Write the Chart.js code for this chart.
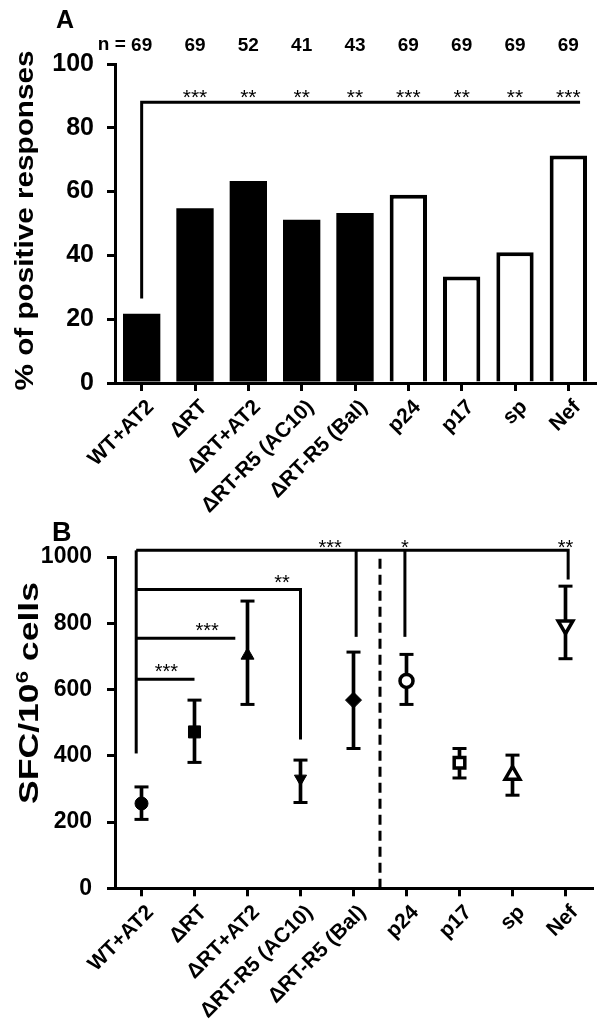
<!DOCTYPE html>
<html><head><meta charset="utf-8">
<script src="https://cdn.jsdelivr.net/npm/chart.js@4"></script>
<style>
html,body{margin:0;padding:0;background:#fff;}
#wrap{position:relative;width:604px;height:1034px;overflow:hidden;}
.box{position:absolute;left:0;width:604px;}
</style></head><body>
<div id="wrap">
<div class="box" style="top:0;height:530px"><canvas id="cA" width="604" height="530"></canvas></div>
<div class="box" style="top:505px;height:529px"><canvas id="cB" width="604" height="529"></canvas></div>
</div>
<script>
// ---------- data ----------
const categories = ['WT+AT2','ΔRT','ΔRT+AT2','ΔRT-R5 (AC10)','ΔRT-R5 (Bal)','p24','p17','sp','Nef'];
const pctPositive = [21.7, 54.8, 63.3, 51.2, 53.3, 59.0, 33.4, 41.0, 71.3];
const nValues = [69, 69, 52, 41, 43, 69, 69, 69, 69];
const isVirusConstruct = [true, true, true, true, true, false, false, false, false];
const starsA = ['', '***', '**', '**', '**', '***', '**', '**', '***'];
const ticksA = [0, 20, 40, 60, 80, 100];

const sfcMean  = [256, 472, 703, 331, 568, 626, 379, 342, 794];
const sfcUpper = [306, 568, 867, 387, 713, 706, 422, 402, 912];
const sfcLower = [208, 380, 555, 259, 422, 555, 333, 281, 693];
const ticksB = [0, 200, 400, 600, 800, 1000];

// significance annotations (category index, value)
const bracketA = {level: 88, from: 0.0, to: 8.22, drop: 26.5};
const starLevelA = 90.5;
const nLabelLevel = 106;
// panel B brackets: [level, fromX, toX, dropTo(or null)]
const bracketsB = [
  [631, -0.1, 1.0, null],
  [755, -0.1, 1.77, null],
  [902, -0.1, 3.0, 449],
  [1020, -0.1, 8.05, 932]
];
const leftStemB = {x: -0.1, from: 1020, to: 407};
const dropsB = [[4.05, 1020, 759], [4.97, 1020, 759]];
const starsB = [['***', 0.47, 664], ['***', 1.24, 788], ['**', 2.65, 933], ['***', 3.56, 1040], ['*', 4.97, 1040], ['**', 8.0, 1040]];
const dividerB = 4.5;

// ---------- helpers ----------
const FONT = "'Liberation Sans', Arial, sans-serif";
Chart.defaults.font.family = FONT;
Chart.defaults.color = '#000';

function centeredText(ctx, txt, x, yc, font, align) {
  ctx.save();
  ctx.font = font;
  ctx.fillStyle = '#000';
  ctx.textAlign = align || 'center';
  ctx.textBaseline = 'alphabetic';
  const m = ctx.measureText(txt);
  ctx.fillText(txt, x, yc + (m.actualBoundingBoxAscent - m.actualBoundingBoxDescent) / 2);
  const w = m.width;
  ctx.restore();
  return w;
}
function yTitle(ctx, parts, baseX, cy, size, targetLen) {
  ctx.save();
  ctx.translate(baseX, cy);
  ctx.rotate(-Math.PI / 2);
  let total = 0;
  parts.forEach(p => { ctx.font = `bold ${size * p.s}px ${FONT}`; p.w = ctx.measureText(p.t).width; total += p.w; });
  const k = targetLen / total;
  ctx.scale(k, 1);
  ctx.fillStyle = '#000';
  ctx.textAlign = 'left';
  ctx.textBaseline = 'alphabetic';
  let x = -total / 2;
  parts.forEach(p => { ctx.font = `bold ${size * p.s}px ${FONT}`; ctx.fillText(p.t, x, -p.r * size); x += p.w; });
  ctx.restore();
}
function path(ctx, pts, dash) {
  ctx.save();
  ctx.strokeStyle = '#000';
  ctx.lineWidth = 3;
  ctx.lineCap = 'butt';
  ctx.lineJoin = 'miter';
  if (dash) ctx.setLineDash(dash);
  ctx.beginPath();
  pts.forEach((p, i) => i ? ctx.lineTo(p[0], p[1]) : ctx.moveTo(p[0], p[1]));
  ctx.stroke();
  ctx.restore();
}

const axisCommon = {
  border: {display: true, color: '#000', width: 3},
  grid: {drawOnChartArea: false, drawTicks: true, tickLength: 8, color: '#000', lineWidth: 3, offset: false}
};
const xTicks = {maxRotation: 45, minRotation: 45, autoSkip: false, padding: 4, labelOffset: 9, color: '#000', font: {size: 21, weight: 'bold'}};

// ---------- Panel A ----------
const annotA = {
  id: 'annotA',
  afterDatasetsDraw(chart) {
    const ctx = chart.ctx, xs = chart.scales.x, ys = chart.scales.y;
    const X = v => xs.getPixelForValue(v), Y = v => ys.getPixelForValue(v);
    path(ctx, [[X(bracketA.from), Y(bracketA.drop)], [X(bracketA.from), Y(bracketA.level)], [X(bracketA.to), Y(bracketA.level)]]);
    starsA.forEach((s, i) => { if (s) centeredText(ctx, s, X(i), Y(starLevelA), `21px ${FONT}`); });
    nValues.forEach((n, i) => {
      const w = centeredText(ctx, String(n), X(i), Y(nLabelLevel), `bold 19px ${FONT}`);
      if (i === 0) centeredText(ctx, 'n = ', X(i) - w / 2, Y(nLabelLevel), `bold 19px ${FONT}`, 'right');
    });
    centeredText(ctx, 'A', 56, 19, `bold 25px ${FONT}`, 'left');
    yTitle(ctx, [{t: '% of positive responses', s: 1, r: 0}], 33, (chart.chartArea.top + chart.chartArea.bottom) / 2 - 3, 26, 340);
  }
};

new Chart(document.getElementById('cA'), {
  type: 'bar',
  data: {
    labels: categories,
    datasets: [{
      data: pctPositive,
      backgroundColor: isVirusConstruct.map(v => v ? '#000' : '#fff'),
      borderColor: '#000',
      borderWidth: isVirusConstruct.map(v => v ? 0 : 4),
      barPercentage: 0.7,
      categoryPercentage: 1.0
    }]
  },
  options: {
    responsive: false, animation: false, events: [],
    layout: {padding: {top: 64, right: 9, left: 0, bottom: 0}},
    plugins: {legend: {display: false}, tooltip: {enabled: false}},
    scales: {
      x: Object.assign({}, axisCommon, {
        afterFit: s => { s.height = 147; },
        ticks: xTicks
      }),
      y: Object.assign({}, axisCommon, {
        min: 0, max: 100,
        afterFit: s => { s.width = 115; },
        afterBuildTicks: s => { s.ticks = ticksA.map(v => ({value: v})); },
        ticks: {padding: 13, color: '#000', font: {size: 25, weight: 'bold'}, callback: v => String(v)}
      })
    }
  },
  plugins: [annotA]
});

// ---------- Panel B ----------
const annotB = {
  id: 'annotB',
  afterDatasetsDraw(chart) {
    const ctx = chart.ctx, xs = chart.scales.x, ys = chart.scales.y;
    const X = v => xs.getPixelForValue(v), Y = v => ys.getPixelForValue(v);
    path(ctx, [[X(dividerB), Y(995)], [X(dividerB), Y(0)]], [10, 6]);
    path(ctx, [[X(leftStemB.x), Y(leftStemB.to)], [X(leftStemB.x), Y(leftStemB.from)]]);
    bracketsB.forEach(b => {
      const pts = [[X(b[1]), Y(b[0])], [X(b[2]), Y(b[0])]];
      if (b[3] !== null) pts.push([X(b[2]), Y(b[3])]);
      path(ctx, pts);
    });
    dropsB.forEach(d => path(ctx, [[X(d[0]), Y(d[1])], [X(d[0]), Y(d[2])]]));
    starsB.forEach(s => centeredText(ctx, s[0], X(s[1]), Y(s[2]), `20px ${FONT}`));
    centeredText(ctx, 'B', 52, 26, `bold 27px ${FONT}`, 'left');
    yTitle(ctx, [{t: 'SFC/10', s: 1, r: 0}, {t: '6', s: 0.62, r: 0.36}, {t: ' cells', s: 1, r: 0}], 38, 188, 28, 222);
  }
};

new Chart(document.getElementById('cB'), {
  type: 'bar',
  data: {
    labels: categories,
    datasets: [
      {
        type: 'line', order: 0, showLine: false, data: sfcMean,
        pointStyle: ['circle', 'rect', 'triangle', 'triangle', 'rectRot', 'circle', 'rect', 'triangle', 'triangle'],
        pointRotation: [0, 0, 0, 180, 0, 0, 0, 0, 180],
        pointRadius: [6.5, 8.5, 7.5, 7, 8, 6.5, 7.5, 8.5, 8.5],
        pointBackgroundColor: isVirusConstruct.map(v => v ? '#000' : '#fff'),
        pointBorderColor: '#000',
        pointBorderWidth: isVirusConstruct.map(v => v ? 1 : 3.5),
        clip: false
      },
      {
        type: 'line', order: 1, showLine: false, data: sfcUpper,
        pointStyle: 'line', pointRadius: 7, pointBorderWidth: 3, pointBorderColor: '#000', clip: false
      },
      {
        type: 'line', order: 1, showLine: false, data: sfcLower,
        pointStyle: 'line', pointRadius: 7, pointBorderWidth: 3, pointBorderColor: '#000', clip: false
      },
      {
        type: 'bar', order: 2, data: sfcLower.map((l, i) => [l, sfcUpper[i]]),
        backgroundColor: '#000', borderWidth: 0, barThickness: 3
      }
    ]
  },
  options: {
    responsive: false, animation: false, events: [],
    layout: {padding: {top: 52, right: 9, left: 0, bottom: 0}},
    plugins: {legend: {display: false}, tooltip: {enabled: false}},
    scales: {
      x: Object.assign({}, axisCommon, {
        afterFit: s => { s.height = 145.7; },
        ticks: xTicks
      }),
      y: Object.assign({}, axisCommon, {
        min: 0, max: 1000,
        afterFit: s => { s.width = 115; },
        afterBuildTicks: s => { s.ticks = ticksB.map(v => ({value: v})); },
        ticks: {padding: 15, color: '#000', font: {size: 23, weight: 'bold'}, callback: v => String(v)}
      })
    }
  },
  plugins: [annotB]
});
</script>
</body></html>
